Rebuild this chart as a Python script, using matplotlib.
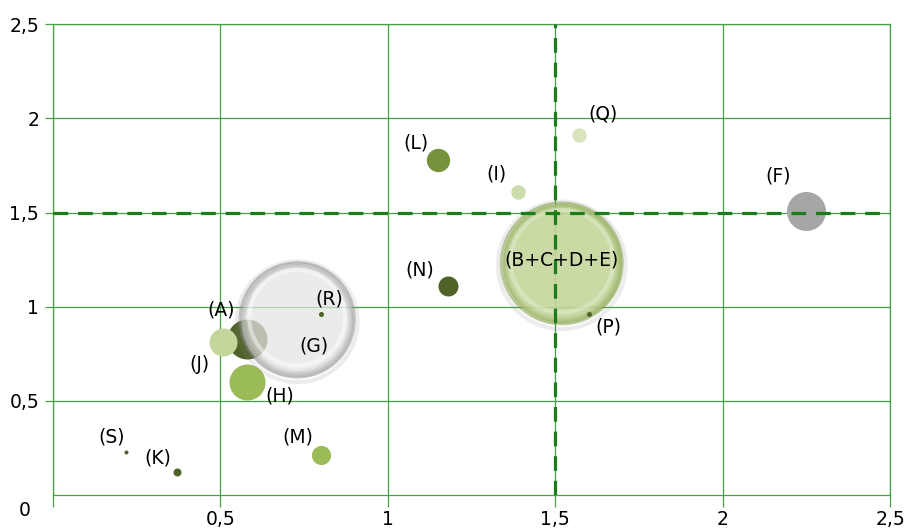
import matplotlib
matplotlib.use('Agg')
import matplotlib.pyplot as plt
import numpy as np

# bubble data
labels = ['(S)', '(K)', '(M)', '(H)', '(A)', '(G)', '(J)', '(R)', '(L)',
          '(I)', '(Q)', '(N)', '(B+C+D+E)', '(P)', '(F)']
x_vals = [0.22, 0.37, 0.80, 0.58, 0.58, 0.73, 0.51, 0.80, 1.15,
          1.39, 1.57, 1.18, 1.52, 1.60, 2.25]
y_vals = [0.23, 0.12, 0.21, 0.60, 0.83, 0.93, 0.81, 0.96, 1.78,
          1.61, 1.91, 1.11, 1.23, 0.96, 1.51]
bubble_vals = [0.1, 0.4, 2.3, 8.1, 10, 83, 4.9, 0.16, 3.4,
               1.3, 1.3, 2.5, 93, 0.16, 9.5]

x_ticks = [0, 0.5, 1, 1.5, 2, 2.5]
x_tick_labels = ['', '0,5', '1', '1,5', '2', '2,5']
y_ticks = [0.5, 1, 1.5, 2, 2.5]
y_tick_labels = ['0,5', '1', '1,5', '2', '2,5']
threshold_x = 1.5
threshold_y = 1.5

# styles
dark = '#4f6228'
colors = {'(S)': dark, '(K)': dark, '(M)': '#9bbb59', '(H)': '#9bbb59',
          '(A)': dark, '(G)': '#e4e4e4', '(J)': '#c3d69b', '(R)': dark,
          '(L)': '#76923c', '(I)': '#cbdcaa', '(Q)': '#d7e4bd', '(N)': dark,
          '(B+C+D+E)': '#c3d69b', '(P)': dark, '(F)': '#a6a6a6'}
# label offsets in pixels (dx, dy)
offsets = {'(S)': (-15, 15), '(K)': (-19, 14), '(M)': (-23, 18),
           '(H)': (33, -14), '(A)': (-26, 29), '(G)': (17, -26),
           '(J)': (-24, -22), '(R)': (9, 15), '(L)': (-22, 17),
           '(I)': (-22, 18), '(Q)': (24, 21), '(N)': (-28, 16),
           '(B+C+D+E)': (0, 3), '(P)': (20, -13), '(F)': (-28, 35)}
# rim colour, highlight colour, body alpha
glossy = {'(G)': ('#8c8c8c', '#ffffff', 0.72),
          '(B+C+D+E)': ('#7f9a45', '#e8f0d6', 0.9)}
SCALE = 82.9  # marker area (pt^2) per bubble unit

grid_col = '#43a043'
plt.rcParams['font.family'] = ['DejaVu Sans']
FS = 13.5

fig = plt.figure(figsize=(9.08, 5.29), dpi=100)
ax = fig.add_axes([0.058, 0.0643, 0.9222, 0.8897])

for i, lab in enumerate(labels):
    s = bubble_vals[i] * SCALE
    x, y = x_vals[i], y_vals[i]
    if lab in glossy:
        rim, hi, alp = glossy[lab]
        d = np.sqrt(s)  # marker diameter, pt
        # faint shadow ring outside the bubble
        ax.scatter(x, y - 0.01, s=(d + 4) ** 2, facecolors='none',
                   edgecolors='#808080', alpha=0.15, linewidths=3, zorder=3)
        # body
        ax.scatter(x, y, s=(d - 2) ** 2, color=colors[lab], alpha=alp,
                   linewidths=0, zorder=3)
        # rim shading: rings getting darker toward the edge
        for k in range(6):
            dd = d - 10 + 2 * k
            ax.scatter(x, y, s=dd ** 2, facecolors='none', edgecolors=rim,
                       alpha=0.05 + 0.09 * k, linewidths=1.4, zorder=3)
        # soft highlight near the top
        ax.scatter(x, y + 0.012, s=(d - 14) ** 2, facecolors='none',
                   edgecolors=hi, alpha=0.45, linewidths=3, zorder=3)
    else:
        ax.scatter(x, y, s=s, color=colors[lab], linewidths=0, zorder=3)
    ax.annotate(lab, (x, y), xytext=offsets[lab],
                textcoords='offset pixels', ha='center', va='center',
                fontsize=FS, color='black', zorder=6)

ax.axvline(threshold_x, color='#1a7d1a', lw=2.3,
           linestyle=(0, (4.6, 3.1)), zorder=5)
ax.axhline(threshold_y, color='#1a7d1a', lw=2.3,
           linestyle=(0, (4.6, 3.1)), zorder=5)

ax.set_xlim(0, 2.5)
ax.set_ylim(0, 2.5)
ax.set_xticks(x_ticks)
ax.set_xticklabels(x_tick_labels)
ax.set_yticks(y_ticks)
ax.set_yticklabels(y_tick_labels)
ax.grid(True, color=grid_col, lw=0.9, zorder=1)
ax.set_axisbelow(True)
for sp in ax.spines.values():
    sp.set_color(grid_col)
    sp.set_linewidth(0.9)
ax.tick_params(axis='x', direction='out', length=8.6, width=0.9,
               color=grid_col, pad=2, labelsize=FS)
ax.tick_params(axis='y', direction='out', length=5.8, width=0.9,
               color=grid_col, pad=4, labelsize=FS)
ax.annotate('0', (0, 0), xytext=(-28, -16), textcoords='offset pixels',
            ha='center', va='center', fontsize=FS, annotation_clip=False)

fig.savefig('out.png', dpi=100)
